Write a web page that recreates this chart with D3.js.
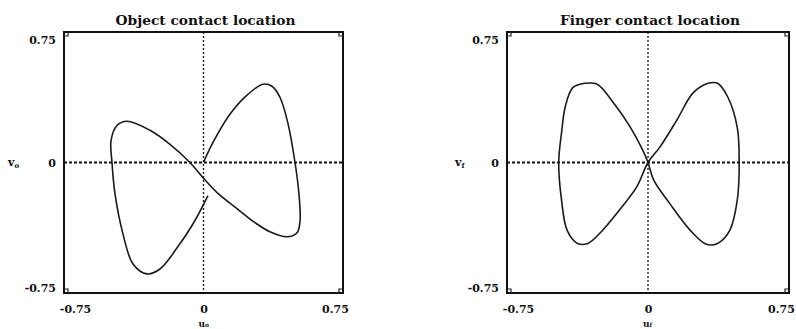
<!DOCTYPE html>
<html>
<head>
<meta charset="utf-8">
<script src="https://cdn.jsdelivr.net/npm/d3@7"></script>
<style>
  body { margin: 0; background: #fff; }
  svg text { font-family: "DejaVu Serif", "Liberation Serif", serif; font-weight: bold; fill: #111; }
</style>
</head>
<body>
<div id="chart"></div>
<script>
// tick labels shared by both panels
var tickValues = [-0.75, 0, 0.75];
var tickLabels = ["-0.75", "0", "0.75"];

// object contact location (u_o, v_o), traced along the trajectory
var objectU = [0.000, 0.051, 0.142, 0.234, 0.320, 0.368, 0.411, 0.454, 0.492, 0.513, 0.519, 0.503,
               0.449, 0.357, 0.277, 0.180, 0.073, -0.003, -0.073, -0.180, -0.288, -0.411,
               -0.465, -0.497, -0.492, -0.476, -0.433, -0.379, -0.304, -0.234, -0.142, -0.056, 0.024];
var objectV = [0.000, 0.115, 0.277, 0.387, 0.450, 0.438, 0.375, 0.225, 0.000, -0.179, -0.335, -0.404,
               -0.427, -0.398, -0.346, -0.265, -0.173, -0.087, 0.000, 0.104, 0.185, 0.237,
               0.213, 0.127, 0.000, -0.179, -0.410, -0.583, -0.640, -0.612, -0.490, -0.352, -0.190];

// finger contact location (u_f, v_f)
var fingerU = [0.00, 0.064, 0.154, 0.24, 0.32, 0.37, 0.425, 0.475, 0.485, 0.475, 0.435, 0.37, 0.31, 0.225, 0.115, 0.03,
               0.00, -0.03, -0.095, -0.185, -0.27, -0.335, -0.40, -0.44, -0.46, -0.475, -0.46, -0.43, -0.375, -0.32, -0.255, -0.15, -0.06];
var fingerV = [0.00, 0.09, 0.245, 0.40, 0.455, 0.455, 0.375, 0.20, 0.00, -0.215, -0.39, -0.465, -0.47, -0.39, -0.235, -0.10,
               0.00, 0.075, 0.205, 0.345, 0.45, 0.455, 0.43, 0.32, 0.17, 0.00, -0.215, -0.39, -0.465, -0.465, -0.405, -0.27, -0.14];

var svg = d3.select("#chart").append("svg")
  .attr("width", 796)
  .attr("height", 329);

function drawPanel(opts) {
  var x = d3.scaleLinear().domain([-0.75, 0.75]).range([opts.left, opts.right]);
  var y = d3.scaleLinear().domain([-0.75, 0.75]).range([293, 32]);
  var g = svg.append("g");

  // zero lines
  g.append("line")
    .attr("x1", x(-0.75)).attr("x2", x(0.75))
    .attr("y1", y(0)).attr("y2", y(0))
    .attr("stroke", "#111").attr("stroke-width", 2.2)
    .attr("stroke-dasharray", "3,2");
  g.append("line")
    .attr("x1", x(0)).attr("x2", x(0))
    .attr("y1", y(0.75)).attr("y2", y(-0.75))
    .attr("stroke", "#222").attr("stroke-width", 1.4)
    .attr("stroke-dasharray", "2,2");

  // frame
  g.append("rect")
    .attr("x", x(-0.75)).attr("y", y(0.75))
    .attr("width", x(0.75) - x(-0.75)).attr("height", y(-0.75) - y(0.75))
    .attr("fill", "none").attr("stroke", "#111").attr("stroke-width", 2);

  // little corner boxes
  [[-0.75, 0.75, 1, 1], [0.75, 0.75, -1, 1], [-0.75, -0.75, 1, -1], [0.75, -0.75, -1, -1]].forEach(function(c) {
    var cx = x(c[0]), cy = y(c[1]);
    g.append("path")
      .attr("d", "M" + cx + "," + (cy + 4 * c[3]) + "h" + (4 * c[2]) + "v" + (-4 * c[3]))
      .attr("fill", "none").attr("stroke", "#222").attr("stroke-width", 1.2);
  });

  // curve
  var pts = opts.u.map(function(d, i) { return [d, opts.v[i]]; });
  g.append("path")
    .datum(pts)
    .attr("fill", "none")
    .attr("stroke", "#1a1a1a")
    .attr("stroke-width", 1.6)
    .attr("d", d3.line()
      .curve(opts.closed ? d3.curveCatmullRomClosed : d3.curveCatmullRom)
      .x(function(d) { return x(d[0]); })
      .y(function(d) { return y(d[1]); }));

  // axes (labels only)
  var ya = g.append("g")
    .attr("transform", "translate(" + (x(-0.75) - 8) + ",0)")
    .call(d3.axisLeft(y).tickValues(tickValues).tickSize(0)
      .tickFormat(function(d, i) { return tickLabels[i]; }));
  ya.select(".domain").remove();
  ya.selectAll("text")
    .style("font-family", "DejaVu Serif, serif").style("font-weight", "bold")
    .style("font-size", "11px").attr("fill", "#111").attr("x", 0)
    .attr("dy", function(d) { return d > 0 ? "1.0em" : (d < 0 ? "-0.1em" : "0.35em"); });

  var xa = g.append("g")
    .attr("transform", "translate(0," + (y(-0.75) + 9) + ")")
    .call(d3.axisBottom(x).tickValues(tickValues).tickSize(0)
      .tickFormat(function(d, i) { return tickLabels[i]; }));
  xa.select(".domain").remove();
  xa.selectAll("text")
    .style("font-family", "DejaVu Serif, serif").style("font-weight", "bold")
    .style("font-size", "11px").attr("fill", "#111")
    .attr("x", function(d) { return d < 0 ? 11 : (d > 0 ? -8 : 0); });

  // title
  g.append("text")
    .attr("x", x(0) + 2).attr("y", 25)
    .attr("text-anchor", "middle")
    .attr("textLength", 180).attr("lengthAdjust", "spacingAndGlyphs")
    .style("font-size", "12px")
    .text(opts.title);

  // axis names
  var yl = g.append("text")
    .attr("x", opts.yLabelX).attr("y", y(0) + 3)
    .style("font-size", "11px");
  yl.append("tspan").text("v");
  yl.append("tspan").attr("dy", 2).style("font-size", "7px").text(opts.sub);

  var xl = g.append("text")
    .attr("x", x(0) - 5).attr("y", 327)
    .style("font-size", "9px");
  xl.append("tspan").text("u");
  xl.append("tspan").style("font-size", "6px").text(opts.sub);
}

drawPanel({ left: 64, right: 343, u: objectU, v: objectV, closed: false,
            title: "Object contact location", sub: "o", yLabelX: 8 });
drawPanel({ left: 507, right: 789, u: fingerU, v: fingerV, closed: true,
            title: "Finger contact location", sub: "f", yLabelX: 455 });
</script>
</body>
</html>
